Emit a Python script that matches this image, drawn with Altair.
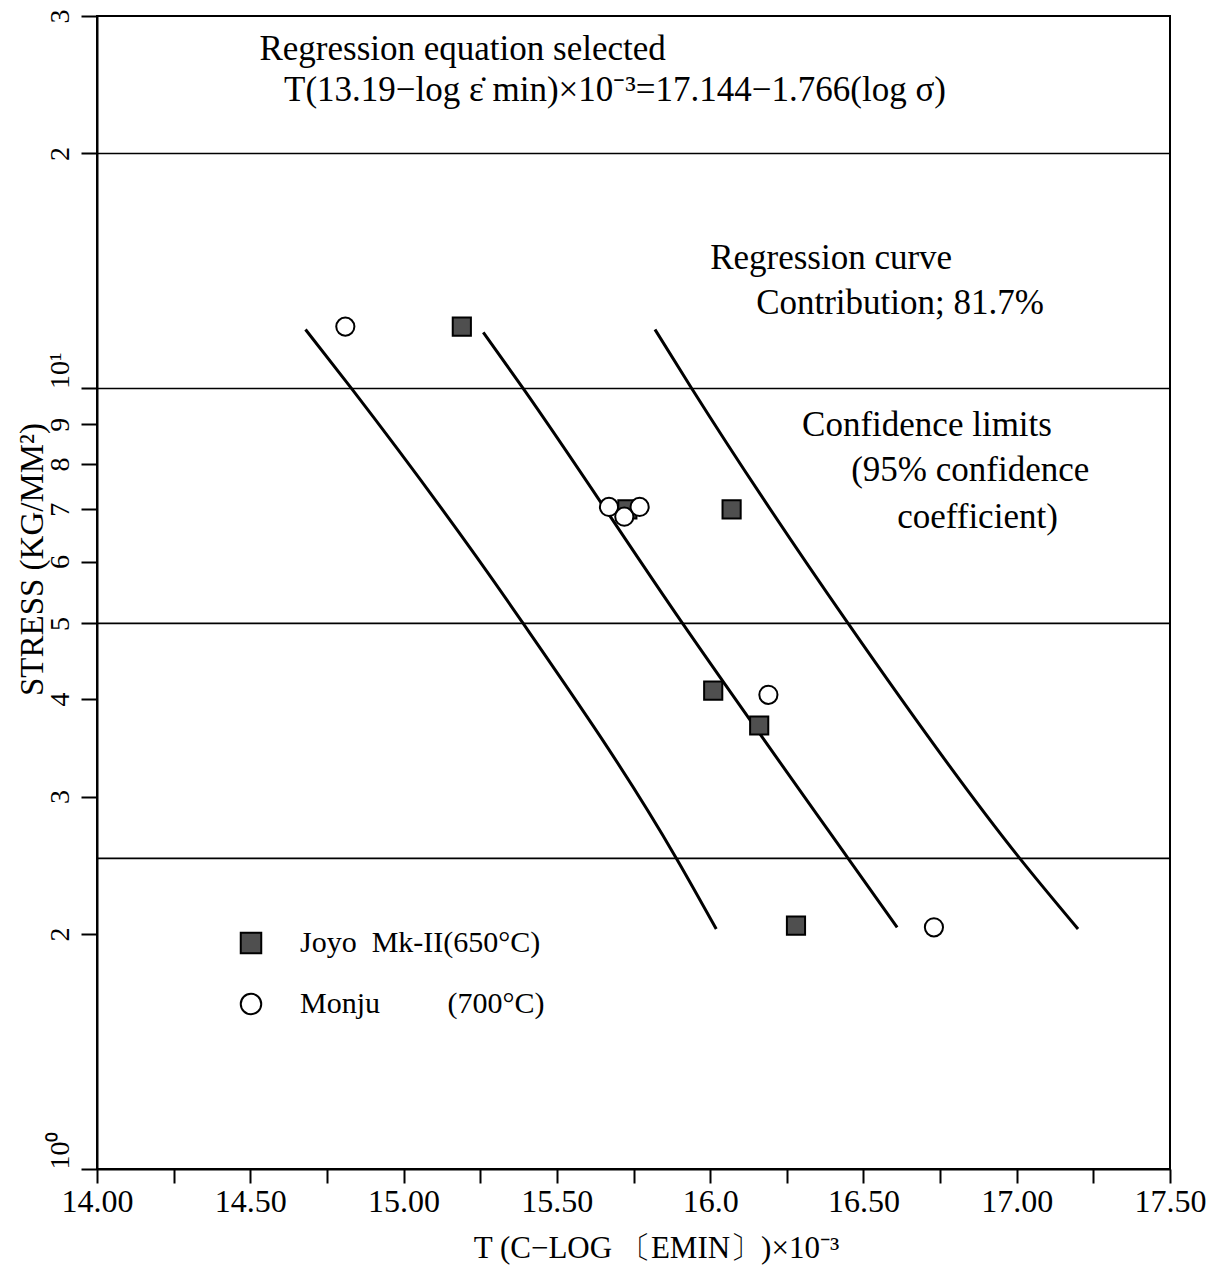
import altair as alt
import pandas as pd

FONT = "Liberation Serif"

# ---- data ----
series_names = ["Joyo Mk-II (650°C)", "Monju (700°C)"]

joyo_T = [15.19, 15.73, 16.07, 16.01, 16.16, 16.28]
joyo_S = [12.0, 7.0, 7.0, 4.1, 3.7, 2.05]

monju_T = [14.81, 15.67, 15.72, 15.77, 16.19, 16.73]
monju_S = [12.0, 7.05, 6.85, 7.05, 4.05, 2.04]

curve_names = ["Lower confidence limit", "Regression curve", "Upper confidence limit"]
lower_T = [14.68, 14.83, 15.39, 15.89, 16.02]
lower_S = [11.9, 10.0, 5.0, 2.5, 2.03]
mid_T = [15.26, 15.39, 15.91, 16.45, 16.61]
mid_S = [11.8, 10.0, 5.0, 2.5, 2.04]
upper_T = [15.82, 15.94, 16.45, 17.01, 17.20]
upper_S = [11.9, 10.0, 5.0, 2.5, 2.03]

ref_S = [20, 10, 5, 2.5]

x_ticks = [14.0, 14.25, 14.5, 14.75, 15.0, 15.25, 15.5, 15.75, 16.0,
           16.25, 16.5, 16.75, 17.0, 17.25, 17.5]
y_ticks = [1, 2, 3, 4, 5, 6, 7, 8, 9, 10, 20, 30]

ann_text = ["Regression equation selected",
            "Regression curve",
            "Contribution; 81.7%",
            "Confidence limits",
            "(95% confidence",
            "coefficient)"]
ann_T = [14.53, 16.00, 16.15, 16.30, 16.46, 16.61]
ann_S = [27.2, 14.7, 12.86, 8.97, 7.85, 6.85]

eq_text = ["T(13.19\u2212log \u03b5\u0307  min)\u00d710\u207b\u00b3=17.144\u22121.766(log \u03c3)"]
eq_T = [14.61]
eq_S = [24.1]

# ---- tables ----
pts = pd.DataFrame({
    "T": joyo_T + monju_T,
    "S": joyo_S + monju_S,
    "series": [series_names[0]] * len(joyo_T) + [series_names[1]] * len(monju_T),
})
curves = pd.DataFrame({
    "T": lower_T + mid_T + upper_T,
    "S": lower_S + mid_S + upper_S,
    "curve": [curve_names[0]] * len(lower_T) + [curve_names[1]] * len(mid_T)
             + [curve_names[2]] * len(upper_T),
    "order": list(range(len(lower_T))) + list(range(len(mid_T))) + list(range(len(upper_T))),
})
refs = pd.DataFrame({"S": ref_S})
ann = pd.DataFrame({"T": ann_T, "S": ann_S, "text": ann_text})
eq = pd.DataFrame({"T": eq_T, "S": eq_S, "text": eq_text})

x_label_expr = ("datum.value == 16 ? '16.0' : "
                "(abs(datum.value * 2 - round(datum.value * 2)) < 0.001 ? format(datum.value, '.2f') : '')")
y_label_expr = ("datum.value == 1 ? '10\u2070' : datum.value == 10 ? '10\u00b9' : "
                "datum.value >= 20 ? format(datum.value / 10, 'd') : format(datum.value, 'd')")

x_axis = alt.Axis(
    values=x_ticks, labelExpr=x_label_expr, grid=False,
    tickSize=14, tickWidth=2, tickColor="black",
    domainColor="black", domainWidth=2,
    labelFont=FONT, labelFontSize=32, labelColor="black", labelPadding=3,
    labelFlush=False, labelOverlap=False,
    title="T (C\u2212LOG \u3014EMIN\u3015)\u00d710\u207b\u00b3",
    titleFont=FONT, titleFontSize=31, titleFontWeight="normal", titleColor="black",
    titleX=559, titleY=79, titleAlign="center", titleBaseline="middle",
)
y_axis = alt.Axis(
    values=y_ticks, labelExpr=y_label_expr, grid=False,
    tickSize=16, tickWidth=2, tickColor="black",
    domainColor="black", domainWidth=2,
    labelFont=FONT, labelFontSize=28, labelColor="black", labelPadding=7,
    labelAngle=270, labelBaseline="bottom",
    labelAlign={"condition": {"test": "datum.value == 1 || datum.value == 10", "value": "left"},
                "value": "center"},
    labelFlush=False, labelOverlap=False,
    title="STRESS (KG/MM\u00b2)",
    titleFont=FONT, titleFontSize=33, titleFontWeight="normal", titleColor="black",
    titleX=-65, titleY=543, titleAngle=270, titleAlign="center", titleBaseline="middle",
)

x_scale = alt.Scale(domain=[14, 17.5], nice=False, zero=False)
y_scale = alt.Scale(type="log", domain=[1, 30], nice=False)

X = alt.X("T:Q", scale=x_scale, axis=x_axis)
Y = alt.Y("S:Q", scale=y_scale, axis=y_axis)

rules = alt.Chart(refs).mark_rule(color="black", strokeWidth=1.6).encode(y=Y)

lines = alt.Chart(curves).mark_line(color="black", strokeWidth=3, interpolate="monotone").encode(
    x=X, y=Y, detail="curve:N", order="order:Q"
)

legend = alt.Legend(
    title=None, orient="none", legendX=139, legendY=912,
    symbolStrokeColor="black", symbolStrokeWidth=2, symbolSize=420,
    labelFont=FONT, labelFontSize=30, labelColor="black", labelLimit=0,
    labelOffset=34, rowPadding=31, padding=0,
    labelExpr="datum.label == 'Monju (700°C)' ? 'Monju\u00a0\u00a0\u00a0\u00a0\u00a0\u00a0\u00a0\u00a0\u00a0(700°C)' : 'Joyo\u00a0 Mk-II(650°C)'",
)

points = alt.Chart(pts).mark_point(filled=True, size=330, strokeWidth=2, opacity=1).encode(
    x=X, y=Y,
    shape=alt.Shape("series:N", scale=alt.Scale(domain=series_names, range=["square", "circle"]), legend=legend),
    fill=alt.Fill("series:N", scale=alt.Scale(domain=series_names, range=["#4f4f4f", "white"]), legend=legend),
    stroke=alt.Stroke("series:N", scale=alt.Scale(domain=series_names, range=["black", "black"]), legend=legend),
)

texts = alt.Chart(ann).mark_text(align="left", baseline="middle", font=FONT, fontSize=35, color="black").encode(
    x=X, y=Y, text="text:N"
)
eq_layer = alt.Chart(eq).mark_text(align="left", baseline="middle", font=FONT, fontSize=35, color="black").encode(
    x=X, y=Y, text="text:N"
)

chart = alt.layer(rules, lines, points, texts, eq_layer).properties(
    width=1073, height=1153,
    autosize=alt.AutoSizeParams(type="none"),
    padding={"left": 97, "top": 16, "right": 39, "bottom": 99},
    background="white",
).configure_view(stroke="black", strokeWidth=2)

chart.save("out.html", embed_options={"renderer": "svg", "actions": False})
